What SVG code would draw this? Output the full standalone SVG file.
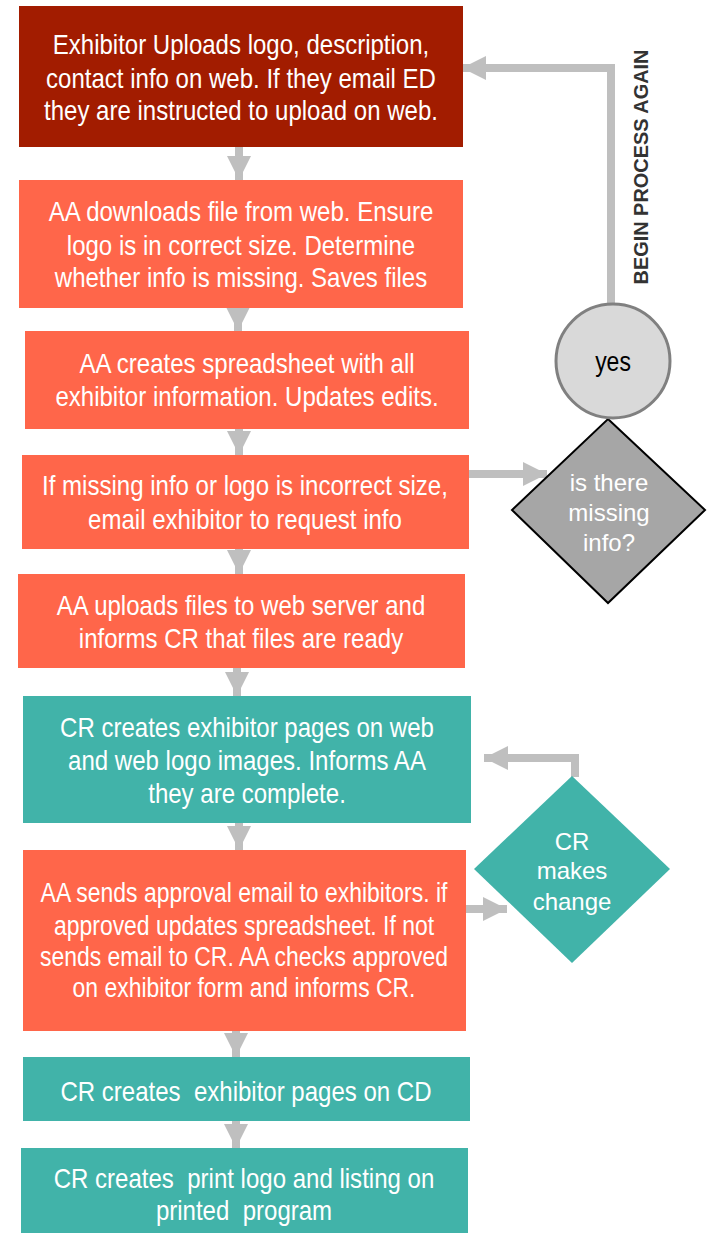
<svg xmlns="http://www.w3.org/2000/svg" width="711" height="1233" viewBox="0 0 711 1233">
<style>
.t{font-family:"Liberation Sans",Arial,sans-serif;font-size:27px;fill:#ffffff;text-anchor:middle}
.d{font-size:24px}
.dark{fill:#a21c00}
.org{fill:#ff664a}
.teal{fill:#41b3a9}
.conn{fill:none;stroke:#bfbfbf;stroke-width:8;marker-end:url(#ah)}
.lbl{font-family:"Liberation Sans",Arial,sans-serif;font-weight:bold;font-size:21px;fill:#333333;text-anchor:middle}
</style>
<defs>
<marker id="ah" markerUnits="userSpaceOnUse" markerWidth="24" markerHeight="24" viewBox="0 0 24 24" refX="24" refY="12" orient="auto">
<path d="M0,0 L24,12 L0,24 z" fill="#bfbfbf"/>
</marker>
</defs>
<rect width="711" height="1233" fill="#ffffff"/>
<g id="connectors">
<path class="conn" d="M239,147 V180"/>
<path class="conn" d="M238,308 V331"/>
<path class="conn" d="M239,429 V455"/>
<path class="conn" d="M239,549 V574"/>
<path class="conn" d="M237,668 V696"/>
<path class="conn" d="M239,823 V850"/>
<path class="conn" d="M236,1031 V1057"/>
<path class="conn" d="M236,1121 V1148"/>
<path class="conn" d="M469,474 H547"/>
<path class="conn" d="M611,305 V68 H462"/>
<path class="conn" d="M575,777 V758 H484"/>
<path class="conn" d="M466,909 H507"/>
<text class="lbl" transform="translate(648,167) rotate(-90)" textLength="235" lengthAdjust="spacingAndGlyphs">BEGIN PROCESS AGAIN</text>
</g>
<g id="n1">
<rect class="dark" x="19" y="6" width="444" height="141"/>
<g transform="translate(241,0) scale(0.89,1)">
<text class="t" x="0" y="54">Exhibitor Uploads logo, description,</text>
<text class="t" x="0" y="88">contact info on web. If they email ED</text>
<text class="t" x="0" y="120">they are instructed to upload on web.</text>
</g>
</g>
<g id="n2">
<rect class="org" x="19" y="180" width="444" height="128"/>
<g transform="translate(241,0) scale(0.89,1)">
<text class="t" x="0" y="221">AA downloads file from web. Ensure</text>
<text class="t" x="0" y="255">logo is in correct size. Determine</text>
<text class="t" x="0" y="287">whether info is missing. Saves files</text>
</g>
</g>
<g id="n3">
<rect class="org" x="25" y="331" width="444" height="98"/>
<g transform="translate(247,0) scale(0.89,1)">
<text class="t" x="0" y="373">AA creates spreadsheet with all</text>
<text class="t" x="0" y="406">exhibitor information. Updates edits.</text>
</g>
</g>
<g id="n4">
<rect class="org" x="22" y="455" width="447" height="94"/>
<g transform="translate(245,0) scale(0.89,1)">
<text class="t" x="0" y="495">If missing info or logo is incorrect size,</text>
<text class="t" x="0" y="529">email exhibitor to request info</text>
</g>
</g>
<g id="n5">
<rect class="org" x="18" y="574" width="447" height="94"/>
<g transform="translate(241,0) scale(0.89,1)">
<text class="t" x="0" y="615">AA uploads files to web server and</text>
<text class="t" x="0" y="648">informs CR that files are ready</text>
</g>
</g>
<g id="n6">
<rect class="teal" x="23" y="696" width="448" height="127"/>
<g transform="translate(247,0) scale(0.89,1)">
<text class="t" x="0" y="737">CR creates exhibitor pages on web</text>
<text class="t" x="0" y="770">and web logo images. Informs AA</text>
<text class="t" x="0" y="803">they are complete.</text>
</g>
</g>
<g id="n7">
<rect class="org" x="23" y="850" width="443" height="181"/>
<g transform="translate(244,0) scale(0.85,1)">
<text class="t" x="0" y="902">AA sends approval email to exhibitors. if</text>
<text class="t" x="0" y="935">approved updates spreadsheet. If not</text>
<text class="t" x="0" y="966">sends email to CR. AA checks approved</text>
<text class="t" x="0" y="997">on exhibitor form and informs CR.</text>
</g>
</g>
<g id="n8">
<rect class="teal" x="23" y="1057" width="447" height="64"/>
<g transform="translate(246,0) scale(0.89,1)">
<text class="t" x="0" y="1101" xml:space="preserve">CR creates  exhibitor pages on CD</text>
</g>
</g>
<g id="n9">
<rect class="teal" x="21" y="1148" width="447" height="85"/>
<g transform="translate(244,0) scale(0.89,1)">
<text class="t" x="0" y="1188" xml:space="preserve">CR creates  print logo and listing on</text>
<text class="t" x="0" y="1220" xml:space="preserve">printed  program</text>
</g>
</g>
<g id="missing">
<polygon points="608,419 705,510 608,603 512,510" fill="#a6a6a6" stroke="#000000" stroke-width="2"/>
<text class="t d" x="609" y="491">is there</text>
<text class="t d" x="609" y="521">missing</text>
<text class="t d" x="609" y="551">info?</text>
</g>
<g id="yes">
<circle cx="613" cy="361" r="57" fill="#d9d9d9" stroke="#808080" stroke-width="3"/>
<g transform="translate(613,0) scale(0.85,1)">
<text class="t" x="0" y="371" style="fill:#000000">yes</text>
</g>
</g>
<g id="crchange">
<polygon points="572,776 670,869 572,963 474,869" class="teal"/>
<text class="t d" x="572" y="850">CR</text>
<text class="t d" x="572" y="879">makes</text>
<text class="t d" x="572" y="910">change</text>
</g>
</svg>
